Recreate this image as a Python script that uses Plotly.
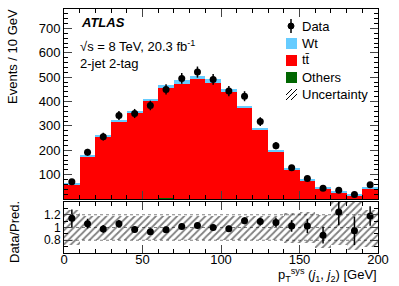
import numpy as np
import plotly.graph_objects as go

# ---------------- data ----------------
bin_lo = [0, 10, 20, 30, 40, 50, 60, 70, 80, 90, 100, 110, 120, 130, 140, 150, 160, 170, 180, 190]
bin_width = 10
data_vals = [71, 192, 256, 343, 351, 384, 450, 495, 521, 491, 443, 422, 318, 219, 128, 84, 44, 36, 18, 59]
ttbar_vals = [59, 174, 254, 314, 355, 401, 450, 473, 493, 476, 438, 372, 284, 195, 120, 76, 44, 24, 14, 41]
wt_vals = [3, 6, 7, 9, 7, 9, 12, 13, 12, 14, 12, 9, 6, 7, 4, 5, 5, 4, 4, 8]
others_vals = [0, 1, 1, 1, 1, 1, 4, 1, 1, 1, 1, 1, 1, 1, 1, 1, 1, 1, 1, 1]
unc_up = [1.28, 1.18, 1.18, 1.18, 1.18, 1.18, 1.18, 1.18, 1.18, 1.18, 1.18, 1.18, 1.18, 1.18, 1.22, 1.25, 1.20, 1.45, 1.42, 1.28]
unc_dn = [0.73, 0.80, 0.80, 0.80, 0.80, 0.80, 0.80, 0.80, 0.80, 0.80, 0.80, 0.80, 0.80, 0.80, 0.76, 0.75, 0.68, 0.72, 0.65, 0.70]

main_ticks = [100, 200, 300, 400, 500, 600, 700]
ratio_ticks = [0.8, 1.0, 1.2]
ratio_ticktext = ["0.8", "1", "1.2"]
x_ticks = [0, 50, 100, 150, 200]

RED = "#ff0000"
BLUE = "#66ccff"
GREEN = "#006600"
FONT = "Liberation Sans, Arial, Helvetica, sans-serif"

centers = np.array(bin_lo) + bin_width / 2
data = np.array(data_vals, float)
tt = np.array(ttbar_vals, float)
wt = np.array(wt_vals, float)
oth = np.array(others_vals, float)
pred = tt + wt + oth
ratio = data / pred
ratio_err = np.sqrt(data) / pred
up = np.array(unc_up)
dn = np.array(unc_dn)

fig = go.Figure()

# stacked histogram (others at bottom, ttbar, Wt on top)
fig.add_trace(go.Bar(x=centers, y=oth, base=np.zeros_like(oth), width=bin_width,
                     marker=dict(color=GREEN, line=dict(width=0)), xaxis="x", yaxis="y", showlegend=False))
fig.add_trace(go.Bar(x=centers, y=tt, base=oth, width=bin_width,
                     marker=dict(color=RED, line=dict(width=0)), xaxis="x", yaxis="y", showlegend=False))
fig.add_trace(go.Bar(x=centers, y=wt, base=oth + tt, width=bin_width,
                     marker=dict(color=BLUE, line=dict(width=0)), xaxis="x", yaxis="y", showlegend=False))

# data
fig.add_trace(go.Scatter(x=centers, y=data, mode="markers",
                         marker=dict(color="black", size=7),
                         error_y=dict(type="data", array=np.sqrt(data), color="black", thickness=1.5, width=0),
                         xaxis="x", yaxis="y", showlegend=False))

# ratio uncertainty band (hatched)
fig.add_trace(go.Bar(x=centers, y=up - dn, base=dn, width=bin_width,
                     marker=dict(color="rgba(0,0,0,0)", line=dict(width=0),
                                 pattern=dict(shape="/", fgcolor="black", bgcolor="rgba(0,0,0,0)",
                                              size=5, solidity=0.35)),
                     xaxis="x2", yaxis="y2", showlegend=False))

# ratio points
fig.add_trace(go.Scatter(x=centers, y=ratio, mode="markers",
                         marker=dict(color="black", size=7),
                         error_y=dict(type="data", array=ratio_err, color="black", thickness=1.5, width=0),
                         xaxis="x2", yaxis="y2", showlegend=False))

# ---------------- layout ----------------
L, R, T, B = 64, 378, 9, 253
W, H = R - L, B - T


def px(x):
    return (x - L) / W


def py(y):
    return (B - y) / H


axis_common = dict(showline=True, linecolor="black", linewidth=1, mirror="allticks",
                   ticks="inside", showgrid=False, zeroline=False)

fig.update_layout(
    width=399, height=286, autosize=False,
    margin=dict(l=L, r=399 - R, t=T, b=286 - B),
    paper_bgcolor="white", plot_bgcolor="white",
    barmode="overlay", bargap=0,
    showlegend=False,
    font=dict(family=FONT, size=13, color="black"),
    xaxis=dict(domain=[0, 1], range=[0, 200], anchor="y", showticklabels=False,
               tickvals=x_ticks, ticklen=8,
               minor=dict(dtick=10, tick0=0, ticklen=4, ticks="inside", tickcolor="black"),
               **axis_common),
    yaxis=dict(domain=[py(199), 1], range=[0, 780], anchor="x",
               tickvals=main_ticks, ticklen=8,
               tickfont=dict(family=FONT, size=13, color="black"),
               minor=dict(dtick=20, tick0=0, ticklen=4, ticks="inside", tickcolor="black"),
               **axis_common),
    xaxis2=dict(domain=[0, 1], range=[0, 200], anchor="y2", matches="x",
                tickvals=x_ticks, ticklen=8, ticklabelstandoff=-6,
                tickfont=dict(family=FONT, size=13, color="black"),
                minor=dict(dtick=10, tick0=0, ticklen=4, ticks="inside", tickcolor="black"),
                **axis_common),
    yaxis2=dict(domain=[0, py(202)], range=[0.6, 1.4], anchor="x2",
                tickvals=ratio_ticks, ticktext=ratio_ticktext, ticklen=8,
                tickfont=dict(family=FONT, size=12, color="black"),
                minor=dict(dtick=0.1, tick0=0, ticklen=4, ticks="inside", tickcolor="black"),
                **axis_common),
)

shapes = []
# reference lines in ratio panel
for v in [0.8, 1.0, 1.2]:
    shapes.append(dict(type="line", xref="x2", yref="y2", x0=0, x1=200, y0=v, y1=v,
                       line=dict(color="gray", width=1, dash="dot"), layer="below"))

# manual legend
shapes.append(dict(type="line", xref="paper", yref="paper", x0=px(291), x1=px(291), y0=py(19), y1=py(33),
                   line=dict(color="black", width=1.5)))
shapes.append(dict(type="circle", xref="paper", yref="paper", x0=px(288), x1=px(294), y0=py(29), y1=py(23),
                   fillcolor="black", line=dict(color="black", width=1)))
for (ytop, col) in [(38, BLUE), (55, RED), (72, GREEN)]:
    shapes.append(dict(type="rect", xref="paper", yref="paper", x0=px(286), x1=px(297),
                       y0=py(ytop + 11), y1=py(ytop), fillcolor=col, line=dict(width=0)))
for (x0, y0, x1, y1) in [(286, 95, 292, 89), (286, 100, 297, 89), (291, 100, 297, 94)]:
    shapes.append(dict(type="line", xref="paper", yref="paper", x0=px(x0), y0=py(y0), x1=px(x1), y1=py(y1),
                       line=dict(color="black", width=1)))
fig.update_layout(shapes=shapes)

ann = []


def text(x, y, s, size=13, xanchor="left", **kw):
    ann.append(dict(x=px(x), y=py(y), xref="paper", yref="paper", text=s, showarrow=False,
                    xanchor=xanchor, yanchor="middle", font=dict(family=FONT, size=size, color="black"), **kw))


for (yy, s) in [(26, "Data"), (43, "Wt"), (60, "tt\u0304"), (77, "Others"), (95, "Uncertainty")]:
    text(300, yy, s)

text(79, 23, "<b><i>ATLAS</i></b>")
text(78, 46, "\u221As = 8 TeV, 20.3 fb<sup>-1</sup>")
text(78, 63, "2-jet 2-tag")

# axis titles
text(12, 57, "Events / 10 GeV", xanchor="center", textangle=-90)
text(14, 232, "Data/Pred.", xanchor="center", textangle=-90)
text(379, 275, "p<sub>T</sub><sup>sys</sup> (<i>j</i><sub>1</sub>, <i>j</i><sub>2</sub>) [GeV]", xanchor="right")

fig.update_layout(annotations=ann)

fig.write_html("out.html", config={"displayModeBar": False},
               post_script="document.body.style.margin='0';document.body.style.overflow='hidden';")
